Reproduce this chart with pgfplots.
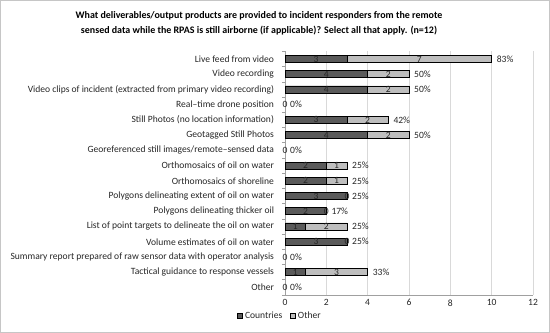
\documentclass[border=0pt]{standalone}
\usepackage{pgfplots}
\pgfplotsset{compat=1.18}
\usepackage{pgfplotstable}
\usepackage{fontspec}
\setmainfont{Carlito}
\definecolor{cdark}{HTML}{5A5A5A}
\definecolor{clight}{HTML}{BEBEBE}
\definecolor{gridc}{HTML}{D9D9D9}
\definecolor{axisc}{HTML}{A0A0A0}
\definecolor{txt}{HTML}{262626}
\newcommand{\lblfont}{\fontsize{9.6}{11.5}\selectfont}

% rows with a non-zero total (row index, Countries, Other, total)
\pgfplotstableread{
y c o t
0 3 7 10
1 4 2 6
2 4 2 6
4 3 2 5
5 4 2 6
7 2 1 3
8 2 1 3
9 3 0 3
10 2 0 2
11 1 2 3
12 3 0 3
14 1 3 4
}\bars

% segment value labels
\pgfplotstableread{
x y lab
1.5 0 3
6.5 0 7
2 1 4
5 1 2
2 2 4
5 2 2
0 3 0
1.5 4 3
4 4 2
2 5 4
5 5 2
0 6 0
1 7 2
2.5 7 1
1 8 2
2.5 8 1
1.5 9 3
3 9 0
1 10 2
2 10 0
0.5 11 1
2 11 2
1.5 12 3
3 12 0
0 13 0
0.5 14 1
2.5 14 3
0 15 0
}\seglabels

% totals in percent
\pgfplotstableread{
x y p
10 0 83
6 1 50
6 2 50
0 3 0
5 4 42
6 5 50
0 6 0
3 7 25
3 8 25
3 9 25
2 10 17
3 11 25
3 12 25
0 13 0
4 14 33
0 15 0
}\pcts

\begin{document}
\begin{tikzpicture}
\useasboundingbox (0,0) rectangle (550bp,333bp);
\draw[gray!45, line width=0.8bp] (0.5bp,0.5bp) rectangle (549.5bp,332.5bp);
\node[font=\bfseries\fontsize{10}{15}\selectfont, align=center, text=black] at (259bp,309.5bp)
  {What deliverables/output products are provided to incident responders from the remote\\
   sensed data while the RPAS is still airborne (if applicable)? Select all that apply. (n=12)};
\begin{axis}[
  at={(285bp,38bp)}, anchor=south west,
  scale only axis, width=248bp, height=243.6bp,
  clip=false,
  /pgf/number format/assume math mode=true,
  xmin=0, xmax=12, xtick={0,2,...,12},
  ymin=-0.5, ymax=15.5, y dir=reverse,
  ytick={0,...,15},
  yticklabels={
    {Live feed from video},
    {Video recording},
    {Video clips of incident (extracted from primary video recording)},
    {Real–time drone position},
    {Still Photos (no location information)},
    {Geotagged Still Photos},
    {Georeferenced still images/remote–sensed data},
    {Orthomosaics of oil on water},
    {Orthomosaics of shoreline},
    {Polygons delineating extent of oil on water},
    {Polygons delineating thicker oil},
    {List of point targets to delineate the oil on water},
    {Volume estimates of oil on water},
    {Summary report prepared of raw sensor data with operator analysis},
    {Tactical guidance to response vessels},
    {Other}},
  axis x line*=bottom, axis y line*=left,
  axis line style={draw=axisc, line width=0.6bp},
  xmajorgrids, grid style={draw=gridc, line width=0.6bp},
  major x tick style={draw=none},
  major y tick style={draw=none},
  extra y ticks={-0.5,0.5,...,15.5},
  extra y tick labels={},
  extra y tick style={major tick length=3bp, tick align=outside, major y tick style={draw=axisc, line width=0.6bp}, grid=none},
  tick label style={font=\lblfont, text=txt},
  yticklabel style={xshift=-7.5bp},
  xticklabel style={yshift=-1bp},
  legend style={at={(-0.02,-0.086)}, anchor=center, draw=none, fill=none,
     font=\lblfont, text=txt, legend columns=2,
     /tikz/every even column/.append style={column sep=6bp}},
]
\addplot[xbar, bar width=7bp, bar shift=0pt, fill=clight, draw=black, line width=0.6bp, forget plot]
  table[x=t, y=y] {\bars};
\addplot[xbar, bar width=7bp, bar shift=0pt, fill=cdark, draw=black, line width=0.6bp, forget plot]
  table[x=c, y=y] {\bars};
\addplot[draw=none, mark=none, forget plot, nodes near coords, point meta=explicit symbolic,
  every node near coord/.append style={anchor=center, inner sep=0pt, font=\lblfont, text=txt}]
  table[x=x, y=y, meta=lab] {\seglabels};
\addplot[draw=none, mark=none, forget plot, nodes near coords={\pgfplotspointmeta\%}, point meta=explicit symbolic,
  every node near coord/.append style={anchor=west, inner sep=0pt, xshift=5bp, font=\lblfont, text=txt}]
  table[x=x, y=y, meta=p] {\pcts};
\addlegendimage{legend image code/.code={\draw[fill=cdark, draw=black, line width=0.6bp] (0bp,-2.5bp) rectangle (5bp,2.5bp);}}
\addlegendentry{Countries}
\addlegendimage{legend image code/.code={\draw[fill=clight, draw=black, line width=0.6bp] (0bp,-2.5bp) rectangle (5bp,2.5bp);}}
\addlegendentry{Other}
\end{axis}
\end{tikzpicture}
\end{document}
